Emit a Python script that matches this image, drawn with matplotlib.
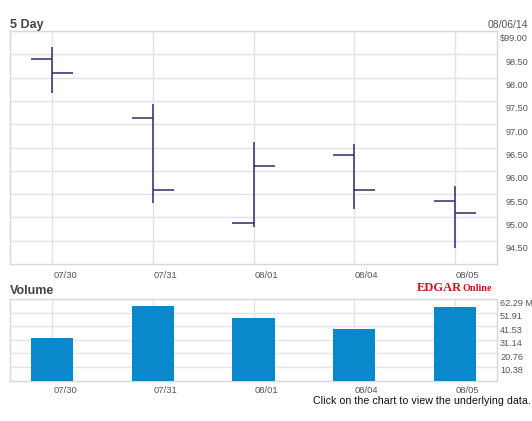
import matplotlib
matplotlib.use("Agg")
import matplotlib.pyplot as plt
from matplotlib.transforms import blended_transform_factory, offset_copy

# ---- data ----
dates = ["07/30", "07/31", "08/01", "08/04", "08/05"]
opens = [98.40, 97.14, 94.88, 96.34, 95.35]
highs = [98.66, 97.44, 96.62, 96.58, 95.68]
lows = [97.67, 95.31, 94.80, 95.18, 94.35]
closes = [98.10, 95.59, 96.11, 95.59, 95.10]
volumes = [32.5, 56.6, 48.0, 39.4, 55.8]
price_ticks = [99.0, 98.5, 98.0, 97.5, 97.0, 96.5, 96.0, 95.5, 95.0, 94.5]
price_labels = ["$99.00", "98.50", "98.00", "97.50", "97.00", "96.50", "96.00", "95.50", "95.00", "94.50"]
vol_ticks = [62.29, 51.91, 41.53, 31.14, 20.76, 10.38]
vol_labels = ["62.29 M", "51.91", "41.53", "31.14", "20.76", "10.38"]
as_of = "08/06/14"

W, H = 532, 421
fig = plt.figure(figsize=(W / 100, H / 100), dpi=100)
fig.patch.set_facecolor("white")
plt.rcParams["font.family"] = ["Liberation Sans", "DejaVu Sans"]

GRID = "#e2e2ea"
BORDER = "#d6d6de"
LBL = "#555555"
xs = list(range(len(dates)))


def px_axes(x0, y0, x1, y1):
    return fig.add_axes([x0 / W, 1 - y1 / H, (x1 - x0) / W, (y1 - y0) / H])


def style(ax):
    ax.set_xticks(xs)
    ax.tick_params(length=0, labelbottom=False, labelleft=False)
    ax.grid(True, color=GRID, lw=1.0)
    ax.set_axisbelow(True)
    for s in ax.spines.values():
        s.set_color(BORDER)
        s.set_linewidth(1.0)
    ax.set_xlim(-0.42, 4.42)


# ---- price panel ----
ax = px_axes(10, 31, 497, 264)
style(ax)
ax.set_ylim(94.0, 99.0)
ax.set_yticks(price_ticks)
tick_len = 0.21
col = "#2c2c6a"
ax.vlines(xs, lows, highs, color=col, lw=1.1, zorder=3)
ax.hlines(opens, [x - tick_len for x in xs], xs, color=col, lw=1.1, zorder=3)
ax.hlines(closes, xs, [x + tick_len for x in xs], color=col, lw=1.1, zorder=3)

tr = offset_copy(blended_transform_factory(fig.transFigure, ax.transData), fig=fig, y=-8, units="dots")
for v, l in zip(price_ticks, price_labels):
    ax.text(528 / W, v, l, transform=tr, ha="right", va="center", fontsize=6.6, color=LBL, clip_on=False)

trd = offset_copy(blended_transform_factory(ax.transData, ax.transAxes), fig=fig, x=1, y=-11, units="dots")
for x, d in zip(xs, dates):
    ax.text(x, 0, d, transform=trd, ha="left", va="center", fontsize=6.8, color=LBL)

# ---- volume panel ----
av = px_axes(10, 299, 497, 380.5)
style(av)
av.set_ylim(0, 62.29)
av.set_yticks(vol_ticks)
av.bar(xs, volumes, width=0.42, color="#0a88cc", zorder=3)

trv = offset_copy(blended_transform_factory(fig.transFigure, av.transData), fig=fig, y=-4, units="dots")
for v, l in zip(vol_ticks, vol_labels):
    av.text(500 / W, v, l, transform=trv, ha="left", va="center", fontsize=6.6, color=LBL, clip_on=False)

trd2 = offset_copy(blended_transform_factory(av.transData, av.transAxes), fig=fig, x=1, y=-10, units="dots")
for x, d in zip(xs, dates):
    av.text(x, 0, d, transform=trd2, ha="left", va="center", fontsize=6.8, color=LBL)

# ---- titles and texts ----
fig.text(10 / W, 1 - 25 / H, "5 Day", fontsize=9, fontweight="bold", color="#444444", ha="left", va="center")
fig.text(10 / W, 1 - 291 / H, "Volume", fontsize=9, fontweight="bold", color="#444444", ha="left", va="center")
fig.text(528 / W, 1 - 25 / H, as_of, fontsize=7.5, color=LBL, ha="right", va="center")
fig.text(417 / W, 1 - 291 / H, "EDGAR", fontsize=9, fontweight="bold", color="#cc1122",
         family=["Liberation Serif", "DejaVu Serif"], ha="left", va="baseline")
fig.text(492 / W, 1 - 291 / H, "Online", fontsize=7.3, fontweight="bold", color="#cc1122",
         family=["Liberation Serif", "DejaVu Serif"], ha="right", va="baseline")
fig.text(531 / W, 1 - 401 / H, "Click on the chart to view the underlying data.", fontsize=7.7,
         color="#111111", ha="right", va="center")

fig.savefig("out.png", dpi=100, facecolor="white")
